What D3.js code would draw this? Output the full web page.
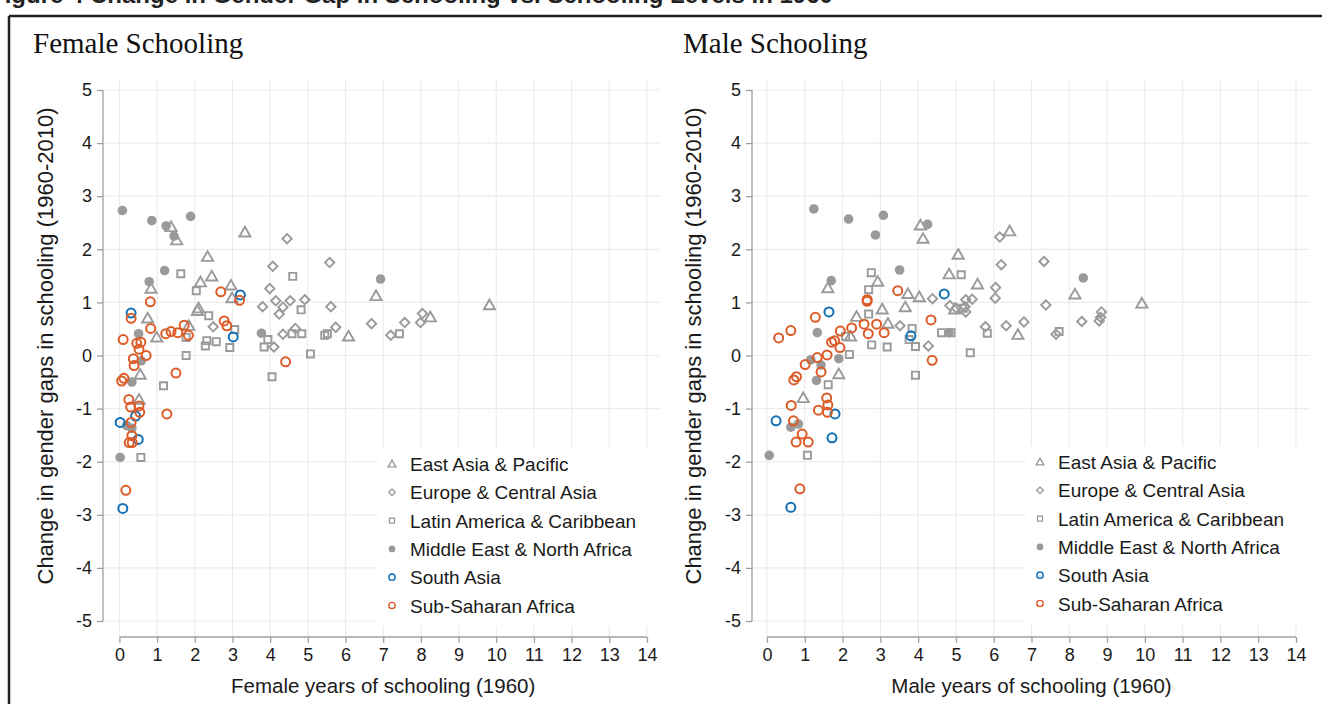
<!DOCTYPE html>
<html><head><meta charset="utf-8">
<script src="https://cdn.jsdelivr.net/npm/d3@7"></script>
<style>html,body{margin:0;padding:0;background:#fff;overflow:hidden}svg{display:block}</style>
</head><body>
<script>
// ---------- DATA ----------
const regions = ["East Asia & Pacific","Europe & Central Asia","Latin America & Caribbean","Middle East & North Africa","South Asia","Sub-Saharan Africa"];
const xTicks = d3.range(0,15);
const yTicks = d3.range(-5,6);

// Female panel: [years of schooling 1960, change in gap]
const femaleEAP = [[1.37,2.42],[1.52,2.17],[3.33,2.32],[2.34,1.86],[2.45,1.49],[2.15,1.38],[0.84,1.26],[2.96,1.32],[2.99,1.08],[2.10,0.89],[2.07,0.84],[0.75,0.70],[1.84,0.56],[0.99,0.34],[0.55,-0.36],[0.52,-0.83],[6.81,1.12],[6.08,0.36],[8.25,0.72],[9.82,0.95]];
const femaleECA = [[4.45,2.20],[4.07,1.68],[3.99,1.26],[4.15,1.03],[4.53,1.03],[4.92,1.05],[3.80,0.92],[4.34,0.91],[4.24,0.78],[2.49,0.54],[4.67,0.51],[4.34,0.40],[4.10,0.16],[5.58,1.75],[5.61,0.92],[5.74,0.53],[6.69,0.60],[7.20,0.38],[7.57,0.62],[8.04,0.79],[7.99,0.62]];
const femaleLAC = [[1.63,1.54],[4.60,1.49],[2.04,1.22],[2.37,0.75],[4.82,0.86],[3.06,0.49],[1.77,0.34],[2.32,0.28],[2.57,0.26],[2.28,0.18],[2.93,0.15],[3.94,0.30],[3.84,0.16],[4.58,0.41],[4.84,0.41],[5.07,0.03],[1.77,0.00],[4.05,-0.40],[1.17,-0.57],[0.57,-1.92],[5.45,0.38],[5.52,0.41],[7.43,0.41]];
const femaleMENA = [[0.08,2.73],[0.86,2.54],[1.24,2.44],[1.45,2.25],[1.89,2.62],[1.20,1.60],[0.79,1.39],[0.51,0.41],[0.58,-0.10],[3.77,0.42],[6.93,1.44],[0.33,-0.50],[0.19,-1.32],[0.33,-1.37],[0.02,-1.92]];
const femaleSA = [[0.31,0.80],[3.21,1.14],[3.02,0.35],[0.43,-1.14],[0.02,-1.26],[0.50,-1.58],[0.09,-2.88]];
const femaleSSA = [[0.82,1.01],[2.69,1.20],[3.19,1.04],[0.31,0.70],[0.83,0.51],[1.72,0.57],[1.83,0.38],[1.23,0.41],[1.37,0.45],[1.55,0.43],[2.78,0.65],[2.85,0.56],[0.10,0.30],[0.46,0.23],[0.57,0.25],[0.52,0.12],[0.71,0.00],[0.37,-0.06],[0.39,-0.19],[4.41,-0.12],[1.50,-0.33],[0.12,-0.43],[0.06,-0.48],[0.25,-0.83],[0.30,-0.97],[0.52,-0.95],[0.54,-1.07],[1.26,-1.10],[0.31,-1.26],[0.33,-1.51],[0.26,-1.64],[0.34,-1.64],[0.17,-2.54]];

// Male panel
const maleEAP = [[4.06,2.45],[4.13,2.20],[5.06,1.90],[4.82,1.53],[2.93,1.39],[1.61,1.27],[3.73,1.16],[4.03,1.10],[3.66,0.91],[3.05,0.87],[2.37,0.73],[3.20,0.60],[2.21,0.36],[1.90,-0.35],[0.96,-0.80],[6.42,2.34],[5.57,1.34],[4.97,0.87],[6.64,0.39],[8.15,1.15],[9.92,0.98]];
const maleECA = [[6.16,2.23],[6.20,1.71],[7.33,1.77],[6.05,1.28],[6.04,1.08],[4.38,1.07],[5.26,1.05],[5.43,1.06],[4.84,0.94],[5.24,0.92],[5.26,0.82],[7.38,0.95],[5.78,0.54],[6.33,0.56],[6.80,0.63],[8.33,0.64],[8.79,0.65],[8.85,0.82],[8.83,0.72],[7.65,0.40],[5.01,0.89],[3.52,0.56],[4.27,0.18]];
const maleLAC = [[2.76,1.56],[2.69,1.24],[2.69,0.78],[2.77,0.20],[3.18,0.16],[3.84,0.51],[3.93,0.17],[3.76,0.30],[3.93,-0.37],[2.18,0.02],[2.08,0.36],[1.62,-0.55],[1.07,-1.88],[5.14,1.52],[5.19,0.89],[4.62,0.43],[4.87,0.43],[5.83,0.42],[5.38,0.05],[7.73,0.45]];
const maleMENA = [[1.24,2.76],[2.16,2.57],[3.08,2.64],[2.87,2.27],[4.25,2.47],[3.51,1.61],[1.70,1.41],[1.33,0.43],[1.90,-0.06],[1.43,-0.18],[1.16,-0.08],[1.31,-0.47],[4.81,0.43],[8.37,1.46],[0.63,-1.35],[0.83,-1.29],[0.06,-1.88]];
const maleSA = [[1.64,0.82],[4.69,1.16],[3.81,0.37],[1.80,-1.10],[0.24,-1.23],[1.72,-1.55],[0.63,-2.86]];
const maleSSA = [[3.46,1.22],[2.65,1.05],[2.65,1.02],[1.28,0.72],[4.34,0.67],[0.63,0.47],[0.31,0.33],[2.24,0.52],[2.57,0.59],[2.90,0.59],[1.94,0.46],[2.68,0.41],[3.10,0.43],[1.79,0.28],[1.71,0.25],[1.93,0.15],[1.59,0.01],[1.33,-0.04],[4.37,-0.09],[1.01,-0.17],[1.43,-0.31],[0.78,-0.40],[0.71,-0.46],[1.58,-0.80],[1.61,-0.93],[0.64,-0.94],[1.36,-1.03],[1.60,-1.07],[0.70,-1.23],[0.93,-1.48],[0.77,-1.63],[1.09,-1.63],[0.87,-2.51]];

// ---------- STYLE ----------
const GREY = "#9a9a9a", BLUE = "#1170b6", ORANGE = "#dc5b27";
const styles = [
  {sym:"tri", color:GREY, fill:"none"},
  {sym:"dia", color:GREY, fill:"none"},
  {sym:"sq", color:GREY, fill:"none"},
  {sym:"circ", color:GREY, fill:GREY},
  {sym:"circ", color:BLUE, fill:"none"},
  {sym:"circ", color:ORANGE, fill:"none"}
];

const W = 1322, H = 704;
const svg = d3.select("body").append("svg").attr("width",W).attr("height",H);
const SANS = "'Liberation Sans', Arial, Helvetica, sans-serif";

// figure caption, cut by the top edge as in the source
svg.append("text").attr("x",-10).attr("y",3).attr("font-family",SANS).attr("font-size",24).attr("font-weight","bold").attr("fill","#222")
  .text("Figure 4  Change in Gender Gap in Schooling vs. Schooling Levels in 1960");
// frame
svg.append("line").attr("x1",9).attr("x2",W).attr("y1",16).attr("y2",16).attr("stroke","#222").attr("stroke-width",2.5);
svg.append("line").attr("x1",9).attr("x2",9).attr("y1",16).attr("y2",H).attr("stroke","#222").attr("stroke-width",2.5);

function marker(g, st, x, y, scale){
  const s = scale||1;
  if(st.sym==="circ"){
    g.append("circle").attr("cx",x).attr("cy",y).attr("r",(st.fill==="none"?4.5:4.8)*s)
      .attr("fill",st.fill).attr("stroke",st.fill==="none"?st.color:"none").attr("stroke-width",2*s);
  } else if(st.sym==="tri"){
    g.append("path").attr("d",d3.symbol(d3.symbolTriangle, 54*s*s)()).attr("transform",`translate(${x},${y+0.9*s})`)
      .attr("fill","none").attr("stroke",st.color).attr("stroke-width",1.9*s);
  } else if(st.sym==="sq"){
    g.append("path").attr("d",d3.symbol(d3.symbolSquare, 50*s*s)()).attr("transform",`translate(${x},${y})`)
      .attr("fill","none").attr("stroke",st.color).attr("stroke-width",1.9*s);
  } else {
    g.append("path").attr("d",d3.symbol(d3.symbolSquare, 44*s*s)()).attr("transform",`translate(${x},${y}) rotate(45)`)
      .attr("fill","none").attr("stroke",st.color).attr("stroke-width",1.9*s);
  }
}

function panel(opt){
  const g = svg.append("g");
  const x = d3.scaleLinear().domain([0,14]).range([opt.x0, opt.x1]);
  const y = d3.scaleLinear().domain([-5,5]).range([621,90]);
  const axX = opt.axisX;
  // gridlines
  g.append("g").selectAll("line.h").data(yTicks).join("line")
    .attr("x1",axX).attr("x2",opt.gridRight).attr("y1",d=>y(d)).attr("y2",d=>y(d))
    .attr("stroke","#ececec").attr("stroke-width",1.2);
  g.append("g").selectAll("line.v").data(xTicks).join("line")
    .attr("x1",d=>x(d)).attr("x2",d=>x(d)).attr("y1",80).attr("y2",636)
    .attr("stroke","#ececec").attr("stroke-width",1.2);
  // title
  g.append("text").attr("x",opt.titleX).attr("y",53).attr("font-family","'Liberation Serif','Times New Roman',serif")
    .attr("font-size",29).attr("fill","#111").text(opt.title);
  // y axis
  const ya = g.append("g").attr("transform",`translate(${axX},0)`)
    .call(d3.axisLeft(y).tickValues(yTicks).tickSize(6).tickPadding(5).tickFormat(d=>String(d)));
  ya.select(".domain").attr("stroke","#a0a0a0").attr("stroke-width",1.3).attr("d",`M0,${y(5)}V${y(-5)}`);
  ya.selectAll(".tick line").attr("stroke","#a0a0a0").attr("stroke-width",1.3);
  ya.selectAll(".tick text").attr("font-family",SANS).attr("font-size",18).attr("fill","#1a1a1a");
  // x axis
  const xa = g.append("g").attr("transform",`translate(0,637)`)
    .call(d3.axisBottom(x).tickValues(xTicks).tickSize(6).tickPadding(5).tickFormat(d=>String(d)));
  xa.select(".domain").attr("stroke","#a0a0a0").attr("stroke-width",1.3).attr("d",`M${x(0)},0H${x(14)}`);
  xa.selectAll(".tick line").attr("stroke","#a0a0a0").attr("stroke-width",1.3);
  xa.selectAll(".tick text").attr("font-family",SANS).attr("font-size",18).attr("fill","#1a1a1a");
  // axis titles
  g.append("text").attr("transform",`translate(${opt.yTitleX},346) rotate(-90)`).attr("text-anchor","middle")
    .attr("font-family",SANS).attr("font-size",22).attr("fill","#1a1a1a").text("Change in gender gaps in schooling (1960-2010)");
  g.append("text").attr("x",(x(0)+x(14))/2).attr("y",693).attr("text-anchor","middle")
    .attr("font-family",SANS).attr("font-size",20.5).attr("fill","#1a1a1a").text(opt.xTitle);
  // points
  const pg = g.append("g");
  opt.series.forEach((arr,i)=>{
    arr.forEach(d=>marker(pg, styles[i], x(d[0]), y(d[1])));
  });
  // legend
  const lg = g.append("g");
  lg.append("rect").attr("x",opt.legX-14).attr("y",opt.legY-16).attr("width",282).attr("height",178).attr("fill","#fff");
  regions.forEach((r,i)=>{
    const yy = opt.legY + i*28.3;
    marker(lg, styles[i], opt.legX, yy, 0.7);
    lg.append("text").attr("x",opt.legX+18).attr("y",yy+7).attr("font-family",SANS).attr("font-size",19)
      .attr("fill","#1a1a1a").text(r);
  });
}

panel({title:"Female Schooling", titleX:33, x0:119.4, x1:647, axisX:103, gridRight:660, yTitleX:53,
  xTitle:"Female years of schooling (1960)", legX:392, legY:464,
  series:[femaleEAP,femaleECA,femaleLAC,femaleMENA,femaleSA,femaleSSA]});
panel({title:"Male Schooling", titleX:683, x0:767, x1:1296, axisX:752, gridRight:1310, yTitleX:701,
  xTitle:"Male years of schooling (1960)", legX:1040, legY:462,
  series:[maleEAP,maleECA,maleLAC,maleMENA,maleSA,maleSSA]});
</script>
</body></html>
